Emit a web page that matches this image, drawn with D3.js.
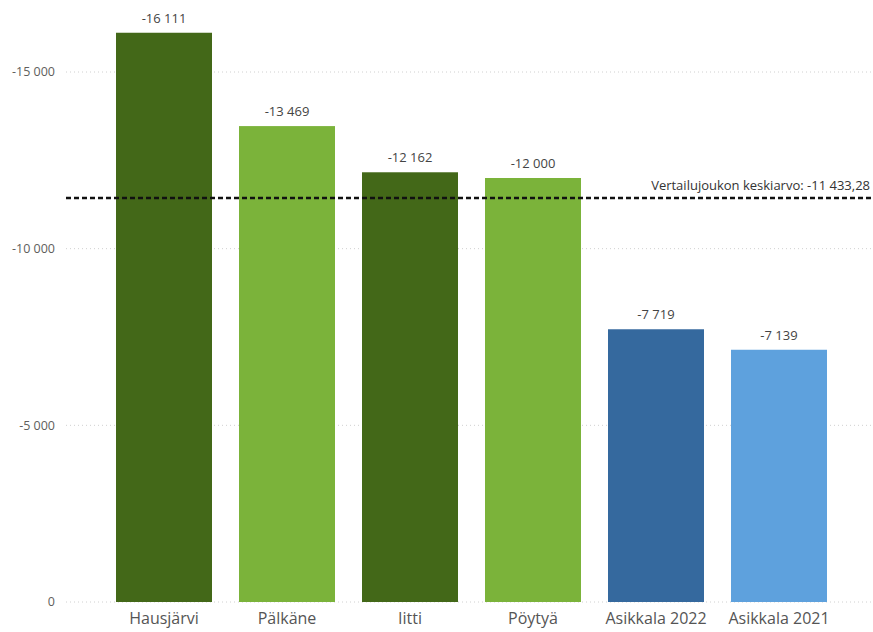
<!DOCTYPE html>
<html><head><meta charset="utf-8">
<script src="https://cdn.jsdelivr.net/npm/d3@7"></script>
<style>body{margin:0;background:#fff}svg{display:block;font-family:"Open Sans",sans-serif}</style>
</head><body><svg id="c" width="873" height="632"></svg>
<script>
const categories = ["Hausjärvi","Pälkäne","Iitti","Pöytyä","Asikkala 2022","Asikkala 2021"];
const values = [-16111,-13469,-12162,-12000,-7719,-7139];
const colors = ["#436818","#7bb33a","#436818","#7bb33a","#35699e","#5ea1dd"];
const ticks = [0,-5000,-10000,-15000];
const average = -11433.28;
const avgLabel = "Vertailujoukon keskiarvo: -11 433,28";

const fmt = v => (v<0?"-":"") + d3.format(",")(Math.abs(v)).replace(/,/g," ");
const svg = d3.select("#c");
const y = d3.scaleLinear().domain([0,-15000]).range([602,72]);
const x = d3.scaleBand().domain(categories).range([102.5,840.5]).paddingInner(27/123).paddingOuter(27/246);

const grid = svg.append("g");
ticks.forEach(t=>{
  grid.append("line").attr("x1",66).attr("x2",873).attr("y1",y(t)).attr("y2",y(t))
    .attr("stroke","#d0d0d0").attr("stroke-dasharray","1,3");
  grid.append("text").attr("x",55).attr("y",y(t)).attr("dy","0.35em").attr("text-anchor","end")
    .attr("font-size",12.5).attr("fill","#605e5c").text(fmt(t));
});

svg.selectAll("rect.bar").data(values).join("rect").attr("class","bar")
  .attr("x",(d,i)=>x(categories[i])).attr("width",x.bandwidth())
  .attr("y",d=>y(d)).attr("height",d=>y(0)-y(d)).attr("fill",(d,i)=>colors[i]);

svg.selectAll("text.val").data(values).join("text").attr("class","val")
  .attr("x",(d,i)=>x(categories[i])+x.bandwidth()/2).attr("y",d=>y(d)-10)
  .attr("text-anchor","middle").attr("font-size",13).attr("fill","#444").text(d=>fmt(d));

svg.selectAll("text.cat").data(categories).join("text").attr("class","cat")
  .attr("x",d=>x(d)+x.bandwidth()/2).attr("y",624)
  .attr("text-anchor","middle").attr("font-size",16).attr("fill","#555").text(d=>d);

svg.append("line").attr("x1",66).attr("x2",873).attr("y1",y(average)).attr("y2",y(average))
  .attr("stroke","#111").attr("stroke-width",2.5).attr("stroke-dasharray","5,3");
svg.append("text").attr("x",870).attr("y",y(average)-8).attr("text-anchor","end")
  .attr("font-size",13).attr("fill","#333").text(avgLabel);
</script></body></html>
